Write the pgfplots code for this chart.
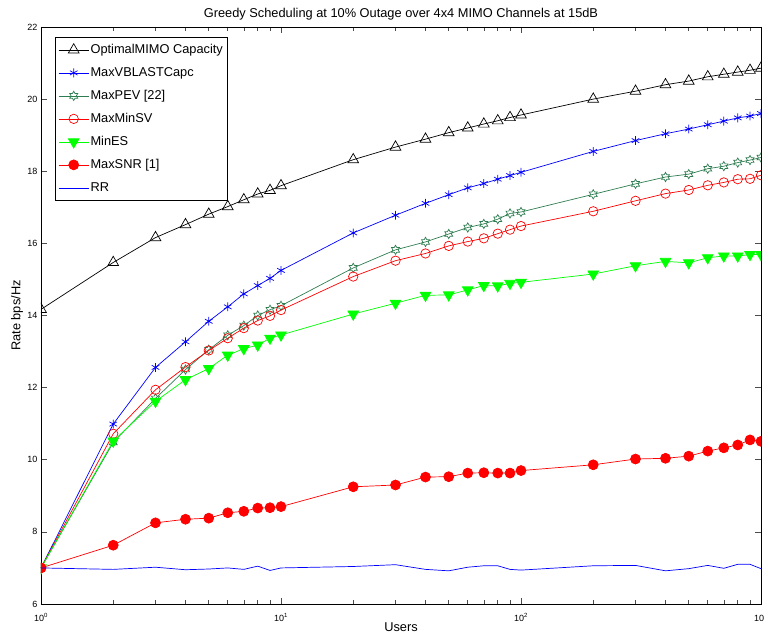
\documentclass[border=0pt]{standalone}
\usepackage{fontspec}
\setmainfont{Liberation Sans}
\usepackage{pgfplots}
\usepackage{pgfplotstable}
\pgfplotsset{compat=1.18}

% six-pointed star outline, like MATLAB's 'h' marker
\pgfdeclareplotmark{hexagram}{%
  \pgfpathmoveto{\pgfpointpolar{90}{\pgfplotmarksize}}%
  \pgfpathlineto{\pgfpointpolar{120}{0.577\pgfplotmarksize}}%
  \pgfpathlineto{\pgfpointpolar{150}{\pgfplotmarksize}}%
  \pgfpathlineto{\pgfpointpolar{180}{0.577\pgfplotmarksize}}%
  \pgfpathlineto{\pgfpointpolar{210}{\pgfplotmarksize}}%
  \pgfpathlineto{\pgfpointpolar{240}{0.577\pgfplotmarksize}}%
  \pgfpathlineto{\pgfpointpolar{270}{\pgfplotmarksize}}%
  \pgfpathlineto{\pgfpointpolar{300}{0.577\pgfplotmarksize}}%
  \pgfpathlineto{\pgfpointpolar{330}{\pgfplotmarksize}}%
  \pgfpathlineto{\pgfpointpolar{0}{0.577\pgfplotmarksize}}%
  \pgfpathlineto{\pgfpointpolar{30}{\pgfplotmarksize}}%
  \pgfpathlineto{\pgfpointpolar{60}{0.577\pgfplotmarksize}}%
  \pgfpathclose
  \pgfusepathqstroke
}

\definecolor{pevgreen}{RGB}{46,125,80}

\pgfplotstableread{
n    opt    vb     pev    msv    mes    snr    rr
1    14.17  7.00   7.00   7.00   7.00   7.00   7.00
2    15.47  10.99  10.48  10.72  10.52  7.63   6.96
3    16.16  12.56  11.70  11.94  11.62  8.25   7.02
4    16.52  13.27  12.50  12.57  12.22  8.35   6.95
5    16.81  13.84  13.05  13.03  12.53  8.38   6.97
6    17.02  14.24  13.45  13.37  12.90  8.53   7.00
7    17.21  14.60  13.72  13.65  13.08  8.57   6.96
8    17.37  14.83  14.00  13.86  13.18  8.66   7.05
9    17.47  15.03  14.16  13.99  13.37  8.67   6.93
10   17.60  15.25  14.27  14.15  13.46  8.70   7.00
20   18.32  16.29  15.32  15.08  14.04  9.25   7.04
30   18.67  16.78  15.82  15.52  14.34  9.30   7.09
40   18.89  17.11  16.04  15.72  14.56  9.52   6.96
50   19.07  17.35  16.26  15.93  14.57  9.53   6.92
60   19.20  17.54  16.44  16.05  14.71  9.63   7.02
70   19.31  17.66  16.54  16.14  14.83  9.64   7.06
80   19.40  17.78  16.67  16.27  14.82  9.63   7.06
90   19.49  17.88  16.83  16.38  14.89  9.63   6.96
100  19.56  17.97  16.87  16.48  14.92  9.70   6.94
200  20.00  18.55  17.36  16.89  15.15  9.86   7.06
300  20.22  18.85  17.65  17.18  15.38  10.02  7.07
400  20.40  19.04  17.84  17.38  15.50  10.04  6.92
500  20.50  19.17  17.92  17.48  15.46  10.10  6.98
600  20.62  19.29  18.07  17.61  15.60  10.24  7.07
700  20.69  19.39  18.14  17.69  15.65  10.33  6.99
800  20.75  19.48  18.24  17.78  15.65  10.41  7.10
900  20.80  19.53  18.31  17.79  15.69  10.55  7.10
1000 20.86  19.60  18.38  17.89  15.69  10.51  6.98
}\rates

\begin{document}
\begin{tikzpicture}
\path[use as bounding box] (-41pt,-30pt) rectangle (723pt,604pt);
\begin{axis}[
  xmode=log, scale only axis,
  width=720pt, height=577pt,
  xmin=1, xmax=1000, ymin=6, ymax=22,
  xtick={1,10,100,1000},
  xticklabels={10\textsuperscript{0},10\textsuperscript{1},10\textsuperscript{2},10\textsuperscript{3}},
  ytick={6,8,...,22},
  /pgf/number format/assume math mode=true,
  tick label style={font=\fontsize{9}{10}\selectfont},
  xticklabel style={yshift=-6pt},
  tick align=inside, tick pos=both,
  major tick length=6pt, minor tick length=4pt,
  axis line style={line width=0.8pt},
  every tick/.style={line width=0.6pt, black!70},
  title={Greedy Scheduling at 10\% Outage over 4x4 MIMO Channels at 15dB},
  title style={font=\fontsize{12.8}{14}\selectfont, at={(axis description cs:0.5,1)}, anchor=center, yshift=7pt},
  xlabel={Users},
  xlabel style={font=\fontsize{12.8}{14}\selectfont, at={(axis description cs:0.5,0)}, anchor=center, yshift=-23pt},
  ylabel={Rate bps/Hz},
  ylabel style={font=\fontsize{12.8}{14}\selectfont, at={(axis description cs:-0.0333,0.5)}, anchor=center},
  clip marker paths=true,
  every axis plot/.append style={line width=0.7pt},
  legend cell align=left,
  legend image code/.code={\draw[mark repeat=2,mark phase=2] plot coordinates {(0pt,0pt) (15pt,0pt) (30pt,0pt)};},
  legend style={at={(axis description cs:0.0194,0.9827)}, anchor=north west,
    draw=black, line width=0.8pt, font=\fontsize{12.8}{14}\selectfont,
    inner xsep=3pt, inner ysep=5pt, row sep=8pt,
    nodes={inner sep=1.5pt, text height=10pt, text depth=2pt}},
]
\addplot[black, mark=triangle, mark size=6.2pt, mark options={solid}] table[x=n, y=opt] {\rates};
\addlegendentry{OptimalMIMO Capacity\hspace{8pt}}
\addplot[blue, mark=asterisk, mark size=4.4pt] table[x=n, y=vb] {\rates};
\addlegendentry{MaxVBLASTCapc}
\addplot[pevgreen, mark=hexagram, mark size=4.6pt] table[x=n, y=pev] {\rates};
\addlegendentry{MaxPEV [22]}
\addplot[red, mark=o, mark size=4.7pt] table[x=n, y=msv] {\rates};
\addlegendentry{MaxMinSV}
\addplot[green, mark=triangle*, mark size=6.2pt, mark options={rotate=180, fill=green}] table[x=n, y=mes] {\rates};
\addlegendentry{MinES}
\addplot[red, mark=*, mark size=5pt, mark options={fill=red}] table[x=n, y=snr] {\rates};
\addlegendentry{MaxSNR [1]}
\addplot[blue, no marks] table[x=n, y=rr] {\rates};
\addlegendentry{RR}
\end{axis}
\end{tikzpicture}
\end{document}
